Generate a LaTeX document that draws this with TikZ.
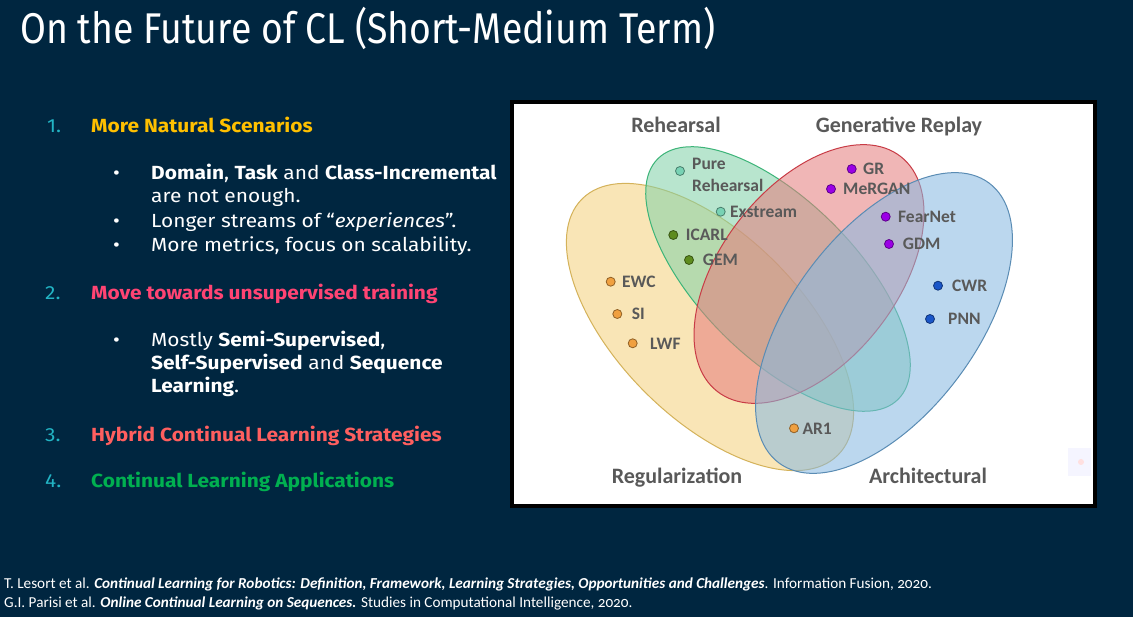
\documentclass[tikz,border=0pt]{standalone}
\usepackage{fontspec}
\setmainfont[FakeStretch=1.1]{Fira Sans}
\newfontfamily\titlefont[FakeStretch=0.87]{Fira Sans}
\newfontfamily\vennfont{Carlito}
\newfontfamily\reffont[Numbers=OldStyle]{Carlito}
\usetikzlibrary{positioning}
\definecolor{slidebg}{RGB}{0,38,64}
\definecolor{numcol}{RGB}{34,180,196}
\definecolor{headA}{RGB}{255,192,0}
\definecolor{headB}{RGB}{255,68,115}
\definecolor{headC}{RGB}{255,95,95}
\definecolor{headD}{RGB}{0,176,80}
\definecolor{venngray}{RGB}{89,89,89}
\definecolor{regfill}{RGB}{246,210,125}
\definecolor{regedge}{RGB}{212,178,90}
\definecolor{rehfill}{RGB}{130,210,168}
\definecolor{rehedge}{RGB}{60,180,120}
\definecolor{genfill}{RGB}{230,125,125}
\definecolor{genedge}{RGB}{200,60,70}
\definecolor{arcfill}{RGB}{135,185,225}
\definecolor{arcedge}{RGB}{90,140,180}
\definecolor{dotorange}{RGB}{240,160,64}
\definecolor{dotteal}{RGB}{120,210,180}
\definecolor{dotolive}{RGB}{94,140,30}
\definecolor{dotpurple}{RGB}{155,0,230}
\definecolor{dotblue}{RGB}{26,86,200}

\begin{document}
\begin{tikzpicture}[x=1pt,y=-1pt,
  txt/.style={anchor=base west,inner sep=0pt,text=white,font=\fontsize{19}{21}\selectfont},
  num/.style={txt,text=numcol},
  head/.style={txt,font=\bfseries\fontsize{19}{21}\selectfont},
  foot/.style={anchor=base west,inner sep=0pt,text=white,font=\reffont\fontsize{15.2}{17}\selectfont},
  setlab/.style={anchor=base,inner sep=0pt,text=venngray,font=\vennfont\bfseries\fontsize{22}{24}\selectfont},
  methlab/.style={anchor=base west,inner sep=0pt,text=venngray,font=\vennfont\bfseries\fontsize{17.5}{22}\selectfont},
  dot/.style={circle,inner sep=0pt,minimum size=9pt,line width=0.8pt},
  setfill/.style={fill opacity=0.56,line width=1pt}]
  \useasboundingbox (0,0) rectangle (1133,617);
  \fill[slidebg] (0,0) rectangle (1133,617);

  % title
  \node[anchor=west,inner sep=0pt,text=white,font=\titlefont\fontsize{43}{43}\selectfont] (title) at (20,28) {On the Future of CL (Short-Medium Term)};

  % list
  \node[num] (n1) at (47,133) {1.};
  \node[head,text=headA] (h1) at (91,133) {More Natural Scenarios};
  \foreach \by in {180,228,252} \node[txt] at (113,\by) {•};
  \node[txt] (b1) at (151,180) {\textbf{Domain}, \textbf{Task} and \textbf{Class-Incremental}};
  \node[txt] (b1b) at (151,203) {are not enough.};
  \node[txt] (b2) at (151,228) {Longer streams of “\textit{experiences}”.};
  \node[txt] (b3) at (151,252) {More metrics, focus on scalability.};

  \node[num] (n2) at (45,300) {2.};
  \node[head,text=headB] (h2) at (91,300) {Move towards unsupervised training};
  \node[txt] at (113,347) {•};
  \node[txt] (b4) at (151,347) {Mostly \textbf{Semi-Supervised},};
  \node[txt] (b4b) at (151,370) {\textbf{Self-Supervised} and \textbf{Sequence}};
  \node[txt] (b4c) at (151,393) {\textbf{Learning}.};

  \node[num] (n3) at (45,442) {3.};
  \node[head,text=headC] (h3) at (91,442) {Hybrid Continual Learning Strategies};
  \node[num] (n4) at (45,488) {4.};
  \node[head,text=headD] (h4) at (91,488) {Continual Learning Applications};

  % figure frame
  \draw[fill=white,line width=4pt] (512,102) rectangle (1095,506);
  \fill[blue!4] (1068,448) rectangle (1091,476);
  \fill[red!12] (1081,462) circle (3);

  % sets
  \filldraw[setfill,fill=regfill,draw=regedge,rotate around={-45:(710,327)}] (710,327) ellipse [x radius=181,y radius=92];
  \filldraw[setfill,fill=rehfill,draw=rehedge,rotate around={-45:(778,279)}] (778,279) ellipse [x radius=170,y radius=78];
  \filldraw[setfill,fill=genfill,draw=genedge,rotate around={52:(809,274)}] (809,274) ellipse [x radius=149,y radius=88];
  \filldraw[setfill,fill=arcfill,draw=arcedge,rotate around={53:(884,323)}] (884,323) ellipse [x radius=175,y radius=92];

  \node[setlab] (rehearsal) at (676,133) {Rehearsal};
  \node[setlab] (generative) at (899,133) {Generative Replay};
  \node[setlab] (regular) at (677,483) {Regularization};
  \node[setlab] (architect) at (928,483) {Architectural};

  % methods
  \node[dot,fill=dotteal,draw=dotteal!60!black] (dpure) at (680,171) {};
  \node[methlab,anchor=west,align=left] (pure) at (692,175) {Pure\\Rehearsal};
  \foreach \n/\px/\py/\lx/\c/\t in {
    exstream/720.7/211.7/730/dotteal/Exstream,
    icarl/673.3/235/685.7/dotolive/ICARL,
    gem/689/260/702.7/dotolive/GEM,
    ewc/610.7/281.7/622/dotorange/EWC,
    si/617.3/314/631.7/dotorange/SI,
    lwf/632.7/343.3/650/dotorange/LWF,
    ar/794/428.3/802.3/dotorange/AR1,
    gr/851.7/169/863/dotpurple/GR,
    mergan/831/189/843/dotpurple/MeRGAN,
    fearnet/885.7/216.7/898/dotpurple/FearNet,
    gdm/889/244/902.7/dotpurple/GDM,
    cwr/938/285.7/952/dotblue/CWR,
    pnn/930/319/948/dotblue/PNN} {
    \node[dot,fill=\c,draw=\c!60!black] (d\n) at (\px,\py) {};
    \node[methlab] (\n) at (\lx,\py+6) {\t};
  }

  % references
  \node[foot] (ref1) at (4,588) {T. Lesort et al. \textbf{\textit{Continual Learning for Robotics: Definition, Framework, Learning Strategies, Opportunities and Challenges}}. Information Fusion, 2020.};
  \node[foot] (ref2) at (4,607) {G.I. Parisi et al. \textbf{\textit{Online Continual Learning on Sequences.}} Studies in Computational Intelligence, 2020.};
\end{tikzpicture}
\end{document}
